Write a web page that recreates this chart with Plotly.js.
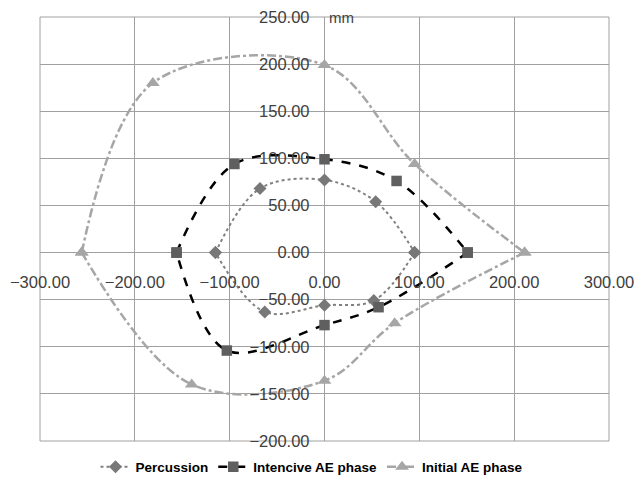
<!DOCTYPE html>
<html>
<head>
<meta charset="utf-8">
<script src="https://cdn.plot.ly/plotly-3.0.1.min.js"></script>
<style>html,body{margin:0;padding:0;background:#fff;}#chart{width:634px;height:484px;}</style>
</head>
<body>
<div id="chart"></div>
<script>
// Data, points in order W, NW, N, NE, E, SE, S, SW (loop closes back to W)
const percussionX = [-115, -68, 0, 54, 95, 52, 0, -63];
const percussionY = [0, 68, 77, 54, 0, -51, -56, -63];
const intensiveX = [-156, -95, 0, 76, 151, 57, 0, -103];
const intensiveY = [0, 94, 99, 76, 0, -58, -77, -104];
const initialX = [-256, -181, 0, 95, 211, 74, 0, -140];
const initialY = [0, 180, 199, 94, 0, -75, -136, -140];
const seriesNames = ["Percussion", "Intencive AE phase", "Initial AE phase"];
const xTicks = [-300, -200, -100, 0, 100, 200, 300];
const yTicks = [-200, -150, -100, -50, 0, 50, 100, 150, 200, 250];
const unitLabel = "mm";

const tickFont = {family: "Liberation Sans, Arial, sans-serif", size: 16.5, color: "#404040"};
const gridColor = "#a0a0a0";

const styles = [
  {line: {dash: "dot", color: "#808080", width: 2}, marker: {symbol: "diamond", size: 10, color: "#787878"}},
  {line: {dash: "dash", color: "#000000", width: 2.5}, marker: {symbol: "square", size: 10.5, color: "#5f5f5f"}},
  {line: {dash: "dashdot", color: "#a6a6a6", width: 2.5}, marker: {symbol: "triangle-up", size: 12, color: "#a6a6a6"}}
];
const series = [[percussionX, percussionY], [intensiveX, intensiveY], [initialX, initialY]];

const traces = [];
series.forEach(function (s, i) {
  const xs = s[0], ys = s[1];
  // upper arc: W -> NW -> N -> NE -> E ; lower arc: E -> SE -> S -> SW -> W
  const upperX = xs.slice(0, 5), upperY = ys.slice(0, 5);
  const lowerX = xs.slice(4).concat([xs[0]]), lowerY = ys.slice(4).concat([ys[0]]);
  const base = {type: "scatter", mode: "lines+markers", legendgroup: "g" + i, name: seriesNames[i],
                marker: styles[i].marker};
  traces.push(Object.assign({}, base, {x: upperX, y: upperY, showlegend: true,
    line: Object.assign({shape: "spline", smoothing: 1}, styles[i].line)}));
  traces.push(Object.assign({}, base, {x: lowerX, y: lowerY, showlegend: false,
    line: Object.assign({shape: "spline", smoothing: 1}, styles[i].line)}));
});

const layout = {
  width: 634, height: 484,
  margin: {l: 40, r: 25, t: 17, b: 43, pad: 0, autoexpand: false},
  paper_bgcolor: "#ffffff", plot_bgcolor: "#ffffff",
  showlegend: true,
  legend: {orientation: "h", x: 0.478, xanchor: "center", y: -0.0613, yanchor: "middle",
           font: {family: "Liberation Sans, Arial, sans-serif", size: 13.5, color: "#000000", weight: "bold"},
           tracegroupgap: 0, bgcolor: "rgba(0,0,0,0)"},
  xaxis: {range: [-300, 300], tickvals: xTicks, tickformat: ".2f", showgrid: true, gridcolor: gridColor, gridwidth: 1,
          zeroline: true, zerolinecolor: gridColor, zerolinewidth: 1, showline: false,
          anchor: "free", position: 4/9, ticks: "", ticklabelstandoff: 18, ticklabeloverflow: "allow",
          tickfont: tickFont, fixedrange: true},
  yaxis: {range: [-200, 250], tickvals: yTicks, tickformat: ".2f", showgrid: true, gridcolor: gridColor, gridwidth: 1,
          zeroline: true, zerolinecolor: gridColor, zerolinewidth: 1, showline: false,
          anchor: "free", position: 0.5, ticks: "", ticklabelstandoff: 15, ticklabeloverflow: "allow",
          tickfont: tickFont, fixedrange: true},
  shapes: [{type: "rect", xref: "paper", yref: "paper", x0: 0, x1: 1, y0: 0, y1: 1,
            line: {color: gridColor, width: 1}, layer: "below"}],
  annotations: [{text: unitLabel, x: 0, y: 250, xref: "x", yref: "y", xanchor: "left", yanchor: "middle",
                 xshift: 2, showarrow: false, font: {family: "Liberation Sans, Arial, sans-serif", size: 15, color: "#404040"}}]
};

Plotly.newPlot("chart", traces, layout, {displayModeBar: false, staticPlot: true});
</script>
</body>
</html>
